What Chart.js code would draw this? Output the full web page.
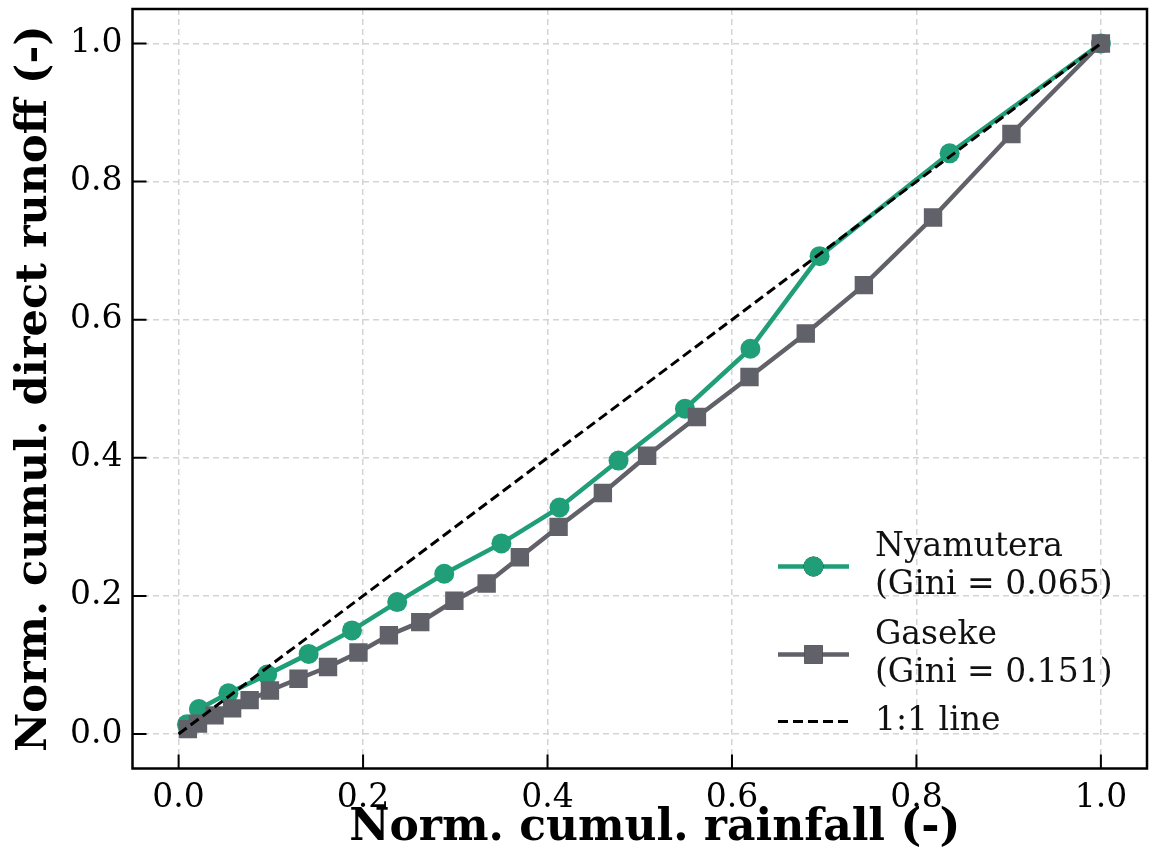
<!DOCTYPE html>
<html>
<head>
<meta charset="utf-8">
<script src="https://cdn.jsdelivr.net/npm/chart.js@4.4.1/dist/chart.umd.min.js"></script>
<style>
  html, body { margin: 0; padding: 0; background: #fff; }
  #wrap { width: 1153px; height: 866px; }
</style>
</head>
<body>
<div id="wrap"><canvas id="gini"></canvas></div>
<script>
// Lorenz-style curves: normalised cumulative rainfall vs direct runoff
const nyamRain   = [0.009, 0.022, 0.054, 0.096, 0.141, 0.188, 0.237, 0.288, 0.350, 0.413, 0.477, 0.549, 0.620, 0.695, 0.836, 1.0];
const nyamRunoff = [0.014, 0.036, 0.059, 0.086, 0.116, 0.150, 0.191, 0.232, 0.276, 0.328, 0.396, 0.471, 0.558, 0.692, 0.841, 1.0];

const gasRain   = [0.010, 0.021, 0.039, 0.058, 0.077, 0.099, 0.130, 0.162, 0.195, 0.228, 0.262, 0.299, 0.334, 0.370, 0.412, 0.460, 0.508, 0.562, 0.619, 0.680, 0.743, 0.818, 0.903, 1.0];
const gasRunoff = [0.007, 0.015, 0.027, 0.037, 0.049, 0.063, 0.080, 0.097, 0.118, 0.143, 0.162, 0.193, 0.218, 0.256, 0.300, 0.349, 0.403, 0.459, 0.517, 0.580, 0.650, 0.748, 0.869, 1.0];

const lineX = [0, 1];
const lineY = [0, 1];

const tickVals = [0, 0.2, 0.4, 0.6, 0.8, 1.0];

const legendItems = [
    { lines: ['Nyamutera', '(Gini = 0.065)'] },
    { lines: ['Gaseke', '(Gini = 0.151)'] },
    { lines: ['1:1 line'] }
];

const GREEN = '#1f9e78';
const GREY = '#616169';
const SERIF = "'DejaVu Serif', serif";

const pts = (xs, ys) => xs.map((x, i) => ({ x: x, y: ys[i] }));

// frame, inward ticks, x title and a hand-laid legend (multi-line labels)
const decorations = {
    id: 'decorations',
    afterDraw(chart) {
        const { ctx, chartArea: a, scales } = chart;
        ctx.save();
        ctx.strokeStyle = '#000';
        ctx.lineWidth = 2;
        tickVals.forEach(v => {
            const px = scales.x.getPixelForValue(v);
            const py = scales.y.getPixelForValue(v);
            ctx.beginPath();
            ctx.moveTo(px, a.bottom); ctx.lineTo(px, a.bottom - 14);
            ctx.moveTo(a.left, py); ctx.lineTo(a.left + 14, py);
            ctx.stroke();
        });
        ctx.lineWidth = 2.5;
        ctx.strokeRect(a.left, a.top, a.right - a.left, a.bottom - a.top);

        // x title sits a little right of the axis centre in the original
        ctx.fillStyle = '#000';
        ctx.font = 'bold 44px ' + SERIF;
        ctx.textAlign = 'center';
        ctx.textBaseline = 'middle';
        ctx.fillText('Norm. cumul. rainfall (-)', (a.left + a.right) / 2 + 15, a.bottom + 60);

        // legend
        const sets = chart.data.datasets;
        const handleY = [a.bottom - 202, a.bottom - 114, a.bottom - 47];
        const x0 = a.right - 369, x1 = a.right - 298, tx = a.right - 272;
        ctx.font = '33px ' + SERIF;
        ctx.textAlign = 'left';
        ctx.fillStyle = '#111';
        legendItems.forEach((item, i) => {
            const ds = sets[i];
            const hy = handleY[i];
            ctx.save();
            ctx.strokeStyle = ds.borderColor;
            ctx.lineWidth = ds.borderWidth;
            ctx.setLineDash(ds.borderDash || []);
            ctx.beginPath();
            ctx.moveTo(x0, hy); ctx.lineTo(x1, hy);
            ctx.stroke();
            ctx.restore();
            if (ds.pointRadius > 0) {
                Chart.helpers.drawPoint(ctx, {
                    pointStyle: ds.pointStyle, radius: ds.pointRadius, borderWidth: 0
                }, (x0 + x1) / 2, hy);
                ctx.fillStyle = ds.backgroundColor;
                ctx.fill();
                ctx.fillStyle = '#111';
            }
            const n = item.lines.length;
            item.lines.forEach((t, k) => {
                ctx.fillText(t, tx, hy + (k - (n - 1) / 2) * 38);
            });
        });
        ctx.restore();
    }
};

const axisFont = { family: SERIF, size: 33 };
const titleFont = { family: SERIF, size: 43, weight: 'bold' };

new Chart(document.getElementById('gini'), {
    type: 'scatter',
    data: {
        datasets: [
            {
                label: 'Nyamutera',
                data: pts(nyamRain, nyamRunoff),
                showLine: true,
                borderColor: GREEN,
                backgroundColor: GREEN,
                borderWidth: 4.5,
                pointStyle: 'circle',
                pointRadius: 10,
                pointBorderWidth: 0,
                order: 3
            },
            {
                label: 'Gaseke',
                data: pts(gasRain, gasRunoff),
                showLine: true,
                borderColor: GREY,
                backgroundColor: GREY,
                borderWidth: 4.5,
                pointStyle: 'rect',
                pointRadius: 13,
                pointBorderWidth: 0,
                order: 2
            },
            {
                label: '1:1 line',
                data: pts(lineX, lineY),
                showLine: true,
                borderColor: '#000',
                backgroundColor: '#000',
                borderWidth: 3,
                borderDash: [10, 5],
                pointRadius: 0,
                order: 1
            }
        ]
    },
    options: {
        responsive: true,
        maintainAspectRatio: false,
        animation: false,
        layout: { autoPadding: false, padding: { top: 9, right: 6, left: 0, bottom: 0 } },
        plugins: { legend: { display: false }, tooltip: { enabled: false } },
        elements: { line: { tension: 0 } },
        scales: {
            x: {
                type: 'linear',
                min: -0.05,
                max: 1.05,
                afterBuildTicks: s => { s.ticks = tickVals.map(v => ({ value: v })); },
                afterFit: s => { s.height = 97.5; s.paddingLeft = 0; s.paddingRight = 0; },
                ticks: {
                    font: axisFont, color: '#000', padding: 10,
                    callback: v => v.toFixed(1)
                },
                grid: { color: '#d4d4d4', lineWidth: 1.5, drawTicks: false },
                border: { display: false, dash: [6, 4] },
                title: { display: false }
            },
            y: {
                type: 'linear',
                min: -0.05,
                max: 1.05,
                afterBuildTicks: s => { s.ticks = tickVals.map(v => ({ value: v })); },
                afterFit: s => { s.width = 132.5; s.paddingTop = 0; s.paddingBottom = 0; },
                ticks: {
                    font: axisFont, color: '#000', padding: 10,
                    callback: v => v.toFixed(1)
                },
                grid: { color: '#d4d4d4', lineWidth: 1.5, drawTicks: false },
                border: { display: false, dash: [6, 4] },
                title: {
                    display: true, text: 'Norm. cumul. direct runoff (-)',
                    font: titleFont, color: '#000', padding: { top: 9, bottom: 9 }
                }
            }
        }
    },
    plugins: [decorations]
});
</script>
</body>
</html>
